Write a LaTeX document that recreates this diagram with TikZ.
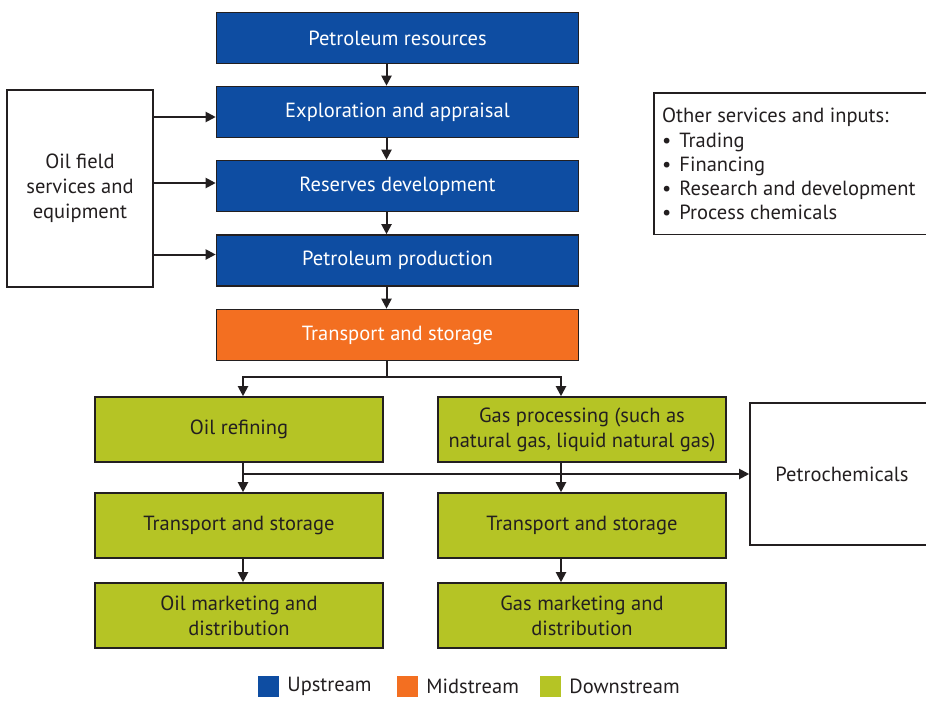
\documentclass[tikz,border=0pt]{standalone}
\usepackage{fontspec}
\setmainfont{PT Sans}
\usetikzlibrary{arrows.meta,calc}
\definecolor{upblue}{HTML}{0E4DA2}
\definecolor{midorange}{HTML}{F36F21}
\definecolor{downgreen}{HTML}{B5C425}
\definecolor{ink}{HTML}{231F20}
\begin{document}
\begin{tikzpicture}[x=1pt,y=-1pt,
  box/.style={draw=ink, line width=1.6pt, inner sep=0pt, align=center,
    font=\fontsize{20.5}{25}\selectfont, text=ink},
  upbox/.style={box, fill=upblue, text=white, minimum width=362pt, minimum height=51pt},
  midbox/.style={box, fill=midorange, text=white, minimum width=362pt, minimum height=51pt},
  downbox/.style={box, fill=downgreen, minimum width=288pt, minimum height=65pt},
  whitebox/.style={box, fill=white},
  arr/.style={draw=ink, line width=2pt, -{Triangle[length=10pt,width=10pt]}},
  link/.style={draw=ink, line width=2pt},
  frame/.style={draw=ink, line width=1.6pt},
  legsq/.style={fill=#1, minimum width=21pt, minimum height=21pt, inner sep=0pt},
  legtxt/.style={anchor=west, inner sep=0pt, text=ink, font=\fontsize{20.5}{25}\selectfont},
]
\useasboundingbox (0,0) rectangle (926,701);
\fill[white] (0,0) rectangle (926,701);

% upstream chain
\node[upbox] (pr) at (397.5,38) {Petroleum resources};
\node[upbox] (ea) at (397.5,112) {Exploration and appraisal};
\node[upbox] (rd) at (397.5,186) {Reserves development};
\node[upbox] (pp) at (397.5,260.5) {Petroleum production};
\node[midbox] (ts) at (397.5,335) {Transport and storage};

% side boxes
\node[whitebox, minimum width=146pt, minimum height=197pt] (of) at (80,188.5)
  {Oil field\\services and\\equipment};
\node[minimum width=300pt, minimum height=141pt, inner sep=0pt, anchor=north west] (os) at (654,93) {};
\draw[frame] (os.north east) -- (os.north west) -- (os.south west) -- (os.south east);
\node[anchor=north west, align=left, inner sep=0pt, text=ink,
  font=\fontsize{20.5}{24.3}\selectfont] (ost) at ([xshift=8pt,yshift=-15pt]os.north west)
  {Other services and inputs:\\
   \textbullet\hspace{8pt}Trading\\
   \textbullet\hspace{8pt}Financing\\
   \textbullet\hspace{8pt}Research and development\\
   \textbullet\hspace{8pt}Process chemicals};

% downstream
\node[downbox] (or) at (239,429.5) {Oil refining};
\node[downbox] (gp) at (582,429.5) {Gas processing (such as\\natural gas, liquid natural gas)};
\node[downbox] (tl) at (239,525.5) {Transport and storage};
\node[downbox] (tr) at (582,525.5) {Transport and storage};
\node[downbox] (om) at (239,615.5) {Oil marketing and\\distribution};
\node[downbox] (gm) at (582,615.5) {Gas marketing and\\distribution};
\node[whitebox, minimum width=184pt, minimum height=142pt] (pc) at (842,474) {Petrochemicals};

% arrows in upstream chain
\draw[arr] ([xshift=-11pt]pr.south) -- ([xshift=-11pt]ea.north);
\draw[arr] ([xshift=-11pt]ea.south) -- ([xshift=-11pt]rd.north);
\draw[arr] ([xshift=-11pt]rd.south) -- ([xshift=-11pt]pp.north);
\draw[arr] ([xshift=-11pt]pp.south) -- ([xshift=-11pt]ts.north);

% oil field services arrows
\draw[arr] ([yshift=-5pt]of.east |- ea.west) -- ([yshift=-5pt]ea.west);
\draw[arr] ([yshift=3pt]of.east |- rd.west) -- ([yshift=3pt]rd.west);
\draw[arr] ([yshift=6pt]of.east |- pp.west) -- ([yshift=6pt]pp.west);

% split after transport
\coordinate (j1) at ($([xshift=-11pt]ts.south)+(0,16)$);
\draw[link] ([xshift=-11pt]ts.south) -- (j1);
\draw[arr] (j1) -| ([xshift=4pt]or.north);
\draw[arr] (j1) -| ([xshift=-21pt]gp.north);

% refining / processing outputs
\coordinate (h1) at ([xshift=4pt]or.south |- pc.west);
\draw[arr] ([xshift=4pt]or.south) -- ([xshift=4pt]tl.north);
\draw[arr] ([xshift=-21pt]gp.south) -- ([xshift=-21pt]tr.north);
\draw[arr] (h1) -- (pc.west);

% to marketing
\draw[arr] ([xshift=4pt]tl.south) -- ([xshift=4pt]om.north);
\draw[arr] ([xshift=-21pt]tr.south) -- ([xshift=-21pt]gm.north);

% legend
\node[legsq=upblue] (lu) at (268.5,686.5) {};
\node[legtxt] (lut) at ([xshift=8pt]lu.east) {Upstream};
\node[legsq=midorange] (lm) at (407.5,686.5) {};
\node[legtxt] (lmt) at ([xshift=8pt]lm.east) {Midstream};
\node[legsq=downgreen] (ld) at (550.5,686.5) {};
\node[legtxt] (ldt) at ([xshift=8pt]ld.east) {Downstream};
\end{tikzpicture}
\end{document}
